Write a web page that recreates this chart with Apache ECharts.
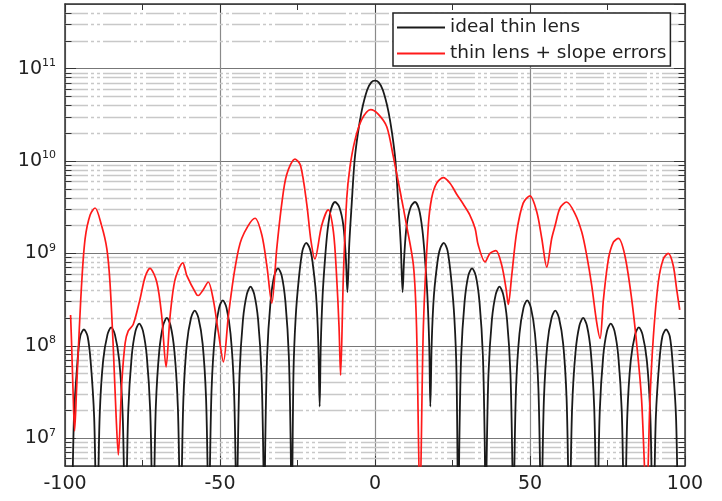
<!DOCTYPE html>
<html><head><meta charset="utf-8">
<script src="https://cdn.jsdelivr.net/npm/echarts@6/dist/echarts.min.js"></script>
<style>html,body{margin:0;padding:0;background:#fff}#c{width:722px;height:501px}</style>
</head><body><div id="c"></div><script>
// ---- data ----
const seriesNames = ['ideal thin lens', 'thin lens + slope errors'];
const xTickLabels = [-100, -50, 0, 50, 100];
const yDecadeExponents = [7, 8, 9, 10, 11];
const yRange = [5e6, 5e11];

const idealThinLens = [
[-98.0,1e6],[-97.7,1.9e6],[-97.1,1.7e7],[-96.0,6.6e7],[-95.1,1.26e8],[-93.9,1.5e8],[-92.7,1.26e8],[-91.7,6.6e7],[-90.6,1.7e7],[-90.0,1.9e6],
[-89.7,1e6],[-89.4,2.0e6],[-88.8,1.8e7],[-87.7,6.9e7],[-86.3,1.32e8],[-85.1,1.58e8],[-83.9,1.32e8],[-82.5,6.9e7],[-81.4,1.8e7],[-80.8,2.0e6],
[-80.5,1e6],[-80.2,2.2e6],[-79.6,1.95e7],[-78.5,7.6e7],[-77.25,1.45e8],[-76.05,1.74e8],[-74.85,1.45e8],[-73.6,7.6e7],[-72.5,1.95e7],[-71.9,2.2e6],
[-71.6,1e6],[-71.3,2.5e6],[-70.7,2.2e7],[-69.6,8.7e7],[-68.35,1.66e8],[-67.15,2.0e8],[-65.95,1.66e8],[-64.7,8.7e7],[-63.6,2.2e7],[-63.0,2.5e6],
[-62.7,1e6],[-62.4,3.0e6],[-61.8,2.7e7],[-60.7,1.05e8],[-59.35,2.0e8],[-58.15,2.4e8],[-56.95,2.0e8],[-55.6,1.05e8],[-54.5,2.7e7],[-53.9,3.0e6],
[-53.6,1e6],[-53.3,3.9e6],[-52.7,3.5e7],[-51.6,1.35e8],[-50.3,2.57e8],[-49.1,3.1e8],[-47.9,2.57e8],[-46.6,1.35e8],[-45.5,3.5e7],[-44.9,3.9e6],
[-44.6,1e6],[-44.3,5.5e6],[-43.7,4.9e7],[-42.6,1.9e8],[-41.35,3.6e8],[-40.15,4.36e8],[-38.95,3.6e8],[-37.7,1.9e8],[-36.6,4.9e7],[-36.0,5.5e6],
[-35.7,1e6],[-35.4,8.7e6],[-34.8,7.8e7],[-33.7,3.0e8],[-32.5,5.75e8],[-31.3,6.9e8],[-30.1,5.75e8],[-28.9,3.0e8],[-27.8,7.8e7],[-27.2,8.7e6],
[-26.9,1e6],[-26.3,5.0e7],[-25.6,2.0e8],[-24.6,5.2e8],[-23.4,1.07e9],[-22.2,1.3e9],[-21.0,1.12e9],[-20.2,8.3e8],[-19.0,3.5e8],[-18.3,1.1e8],
[-17.85,2.2e7],[-17.5,1.0e8],[-16.9,3.5e8],[-16.1,8.9e8],[-15.3,1.78e9],[-14.2,3.0e9],[-12.9,3.6e9],[-11.5,3.16e9],[-10.2,2.0e9],[-9.4,8.9e8],
[-8.9,3.8e8],[-8.3,1.26e9],[-7.5,3.5e9],[-6.6,1.0e10],[-5.5,2.0e10],[-4.2,3.6e10],[-2.5,5.9e10],[-1.2,7.1e10],
[0,7.4e10],
[1.2,7.1e10],[2.5,5.9e10],[4.2,3.6e10],[5.5,2.0e10],[6.6,1.0e10],[7.5,3.5e9],[8.3,1.26e9],[8.9,3.8e8],
[9.4,8.9e8],[10.2,2.0e9],[11.5,3.16e9],[12.9,3.6e9],[14.2,3.0e9],[15.3,1.78e9],[16.1,8.9e8],[16.9,3.5e8],[17.5,1.0e8],[17.85,2.2e7],
[18.3,1.1e8],[19.0,3.5e8],[20.2,8.3e8],[21.0,1.12e9],[22.2,1.3e9],[23.4,1.07e9],[24.6,5.2e8],[25.6,2.0e8],[26.3,5.0e7],[26.9,1e6],
[27.2,8.7e6],[27.8,7.8e7],[28.9,3.0e8],[30.1,5.75e8],[31.3,6.9e8],[32.5,5.75e8],[33.7,3.0e8],[34.8,7.8e7],[35.4,8.7e6],[35.7,1e6],
[36.0,5.5e6],[36.6,4.9e7],[37.7,1.9e8],[38.95,3.6e8],[40.15,4.36e8],[41.35,3.6e8],[42.6,1.9e8],[43.7,4.9e7],[44.3,5.5e6],[44.6,1e6],
[44.9,3.9e6],[45.5,3.5e7],[46.6,1.35e8],[47.9,2.57e8],[49.1,3.1e8],[50.3,2.57e8],[51.6,1.35e8],[52.7,3.5e7],[53.3,3.9e6],[53.6,1e6],
[53.9,3.0e6],[54.5,2.7e7],[55.6,1.05e8],[56.95,2.0e8],[58.15,2.4e8],[59.35,2.0e8],[60.7,1.05e8],[61.8,2.7e7],[62.4,3.0e6],[62.7,1e6],
[63.0,2.5e6],[63.6,2.2e7],[64.7,8.7e7],[65.95,1.66e8],[67.15,2.0e8],[68.35,1.66e8],[69.6,8.7e7],[70.7,2.2e7],[71.3,2.5e6],[71.6,1e6],
[71.9,2.2e6],[72.5,1.95e7],[73.6,7.6e7],[74.85,1.45e8],[76.05,1.74e8],[77.25,1.45e8],[78.5,7.6e7],[79.6,1.95e7],[80.2,2.2e6],[80.5,1e6],
[80.8,2.0e6],[81.4,1.8e7],[82.5,6.9e7],[83.9,1.32e8],[85.1,1.58e8],[86.3,1.32e8],[87.7,6.9e7],[88.8,1.8e7],[89.4,2.0e6],[89.7,1e6],
[90.0,1.9e6],[90.6,1.7e7],[91.7,6.6e7],[92.7,1.26e8],[93.9,1.5e8],[95.1,1.26e8],[96.0,6.6e7],[97.1,1.7e7],[97.7,1.9e6],[98.0,1e6]
];

const thinLensSlopeErrors = [
[-98.2,2.15e8],[-97.9,1.12e8],[-97.4,3.2e7],[-96.9,1.2e7],[-96.3,3.2e7],[-95.7,9.1e7],[-94.6,4.9e8],[-93.5,1.45e9],[-91.9,2.6e9],[-90.3,3.1e9],
[-88.2,2.0e9],[-86.5,1.12e9],[-85.5,4.9e8],[-84.4,9.1e7],[-83.5,1.7e7],[-82.8,6.6e6],[-81.7,3.9e7],[-80.6,1.07e8],[-79.6,1.45e8],[-78.0,1.7e8],
[-75.8,3.2e8],[-74.2,5.5e8],[-72.6,6.9e8],[-70.4,4.9e8],[-68.8,2.1e8],[-67.4,5.9e7],[-66.1,2.1e8],[-64.5,5.2e8],[-62.0,7.9e8],[-60.7,5.75e8],
[-57.5,3.55e8],[-57.0,3.5e8],[-55.5,4.0e8],[-53.8,4.9e8],[-52.2,3.2e8],[-50.5,1.38e8],[-48.9,6.7e7],[-47.3,2.1e8],[-45.2,6.8e8],[-43.0,1.45e9],
[-38.7,2.4e9],[-36.5,1.58e9],[-34.9,7.4e8],[-33.3,2.9e8],[-31.7,1.12e9],[-30.1,3.4e9],[-28.5,7.1e9],[-25.8,1.05e10],[-24.0,8.9e9],[-22.0,3.4e9],
[-20.7,1.4e9],[-19.4,8.7e8],[-17.2,2.0e9],[-15.1,2.95e9],[-13.4,1.7e9],[-12.4,5.75e8],[-11.6,1.6e8],[-11.1,4.8e7],[-10.2,5.75e8],[-9.1,4.0e9],
[-8.1,8.5e9],[-6.5,1.66e10],[-4.3,2.8e10],[-1.4,3.6e10],[1.1,3.2e10],[3.8,2.35e10],[5.9,1.12e10],[8.1,4.7e9],[10.2,2.0e9],[12.4,7.4e8],
[13.4,1.6e8],[14.5,2e6],[15.6,1.6e8],[17.2,2.0e9],[18.3,4.0e9],[19.9,5.75e9],[22.0,6.6e9],[24.2,5.75e9],[26.3,4.4e9],[28.5,3.4e9],
[30.6,2.6e9],[32.3,1.86e9],[33.3,1.23e9],[35.5,8.1e8],[37.1,1.0e9],[39.0,1.07e9],[40.9,7.4e8],[42.3,4.1e8],[43.0,2.8e8],[44.1,5.75e8],
[45.7,1.7e9],[47.8,3.5e9],[50.0,4.2e9],[52.2,2.8e9],[53.8,1.45e9],[55.4,7.1e8],[57.0,1.45e9],[58.1,2.0e9],[59.7,3.1e9],[61.8,3.6e9],
[64.5,2.7e9],[66.7,1.7e9],[68.3,9.5e8],[69.9,4.5e8],[71.5,1.8e8],[72.6,1.2e8],[73.7,3.2e8],[75.3,8.7e8],[76.9,1.32e9],[78.5,1.45e9],
[80.6,9.5e8],[82.8,3.2e8],[84.6,9.1e7],[86.0,2.6e7],[87.6,2e6],[88.7,2.6e7],[89.8,1.26e8],[91.4,4.9e8],[93.0,8.7e8],[94.6,1.0e9],
[96.2,7.4e8],[97.3,4.1e8],[98.3,2.45e8]
];

// ---- decorations (axis minor grid / minor ticks at 2..9 x 10^n) ----
const minorValues = [];
for (let d = 6; d <= 11; d++) for (let m = 2; m <= 9; m++) {
  const v = m * Math.pow(10, d);
  if (v > yRange[0] * 1.001 && v < yRange[1] * 0.999) minorValues.push(v);
}
const xMin = xTickLabels[0], xMax = xTickLabels[xTickLabels.length - 1];
const minorTickLen = 2.1; // in x data units
const minorTickPairs = [];
minorValues.forEach(v => {
  minorTickPairs.push([{coord: [xMin, v]}, {coord: [xMin + minorTickLen, v]}]);
  minorTickPairs.push([{coord: [xMax, v]}, {coord: [xMax - minorTickLen, v]}]);
});

const FONT = 'DejaVu Sans';
const chart = echarts.init(document.getElementById('c'), null, {renderer: 'canvas'});
const yLabelFmt = v => {
  const e = Math.round(Math.log10(v));
  return yDecadeExponents.indexOf(e) >= 0 && Math.abs(Math.log10(v) - e) < 1e-6 ? '{b|10}{s|' + e + '}' : '';
};
const axisLineStyle = {color: '#333', width: 1.5};
chart.setOption({
  animation: false,
  grid: {left: 65, right: 37, top: 4, bottom: 35, containLabel: false},
  legend: {
    data: seriesNames, orient: 'vertical', left: 393, top: 13,
    icon: 'rect', itemWidth: 48, itemHeight: 2, itemGap: 7,
    padding: [5, 4, 3, 4], borderColor: '#222', borderWidth: 1.5, backgroundColor: '#fff',
    textStyle: {fontFamily: FONT, fontSize: 18.5, color: '#222'}
  },
  xAxis: [{
    type: 'value', min: xMin, max: xMax, interval: 50, position: 'bottom',
    axisLine: {show: true, onZero: false, lineStyle: axisLineStyle},
    axisTick: {show: true, inside: true, length: 10, lineStyle: {color: '#333'}},
    minorTick: {show: true, splitNumber: 2, length: 6, lineStyle: {color: '#333'}},
    axisLabel: {fontFamily: FONT, fontSize: 19, color: '#222', margin: 9},
    splitLine: {show: true, lineStyle: {color: '#8a8a8a', width: 1.2}}
  }, {
    type: 'value', min: xMin, max: xMax, interval: 50, position: 'top',
    axisLine: {show: true, onZero: false, lineStyle: axisLineStyle},
    axisTick: {show: true, inside: true, length: 10, lineStyle: {color: '#333'}},
    minorTick: {show: true, splitNumber: 2, length: 6, lineStyle: {color: '#333'}},
    axisLabel: {show: false}, splitLine: {show: false}
  }],
  yAxis: [{
    type: 'log', logBase: 10, min: yRange[0], max: yRange[1], position: 'left',
    axisLine: {show: true, onZero: false, lineStyle: axisLineStyle},
    axisTick: {show: true, inside: true, length: 11, lineStyle: {color: '#333'}},
    axisLabel: {formatter: yLabelFmt, margin: 9, showMinLabel: false, showMaxLabel: false,
      rich: {
        b: {fontFamily: FONT, fontSize: 19, color: '#222', lineHeight: 22},
        s: {fontFamily: FONT, fontSize: 11, color: '#222', verticalAlign: 'top', lineHeight: 12}
      }},
    splitLine: {show: true, lineStyle: {color: '#777', width: 1.2}}
  }, {
    type: 'log', logBase: 10, min: yRange[0], max: yRange[1], position: 'right',
    axisLine: {show: true, onZero: false, lineStyle: axisLineStyle},
    axisTick: {show: true, inside: true, length: 11, lineStyle: {color: '#333'}},
    axisLabel: {show: false}, splitLine: {show: false}
  }],
  series: [{
    name: '_minorgrid', type: 'line', data: [], z: 1, silent: true,
    markLine: {
      z: 1, silent: true, symbol: ['none', 'none'], label: {show: false}, animation: false,
      lineStyle: {color: '#c8c8c8', width: 1.3, type: [28, 3, 3, 3, 3, 3], dashOffset: 5},
      emphasis: {disabled: true},
      data: minorValues.map(v => ({yAxis: v}))
    }
  }, {
    name: '_minorticks', type: 'line', data: [], z: 3, silent: true,
    markLine: {
      z: 3, silent: true, symbol: ['none', 'none'], label: {show: false}, animation: false,
      lineStyle: {color: '#333', width: 1, type: 'solid'},
      emphasis: {disabled: true},
      data: minorTickPairs
    }
  }, {
    name: seriesNames[0], type: 'line', data: idealThinLens, symbol: 'none', z: 10, smooth: 0.3,
    lineStyle: {color: '#1a1a1a', width: 1.8}, itemStyle: {color: '#1a1a1a'}, clip: true
  }, {
    name: seriesNames[1], type: 'line', data: thinLensSlopeErrors, symbol: 'none', z: 11, smooth: 0.3,
    lineStyle: {color: '#ff1a1a', width: 1.7}, itemStyle: {color: '#ff1a1a'}, clip: true
  }]
});
</script></body></html>
